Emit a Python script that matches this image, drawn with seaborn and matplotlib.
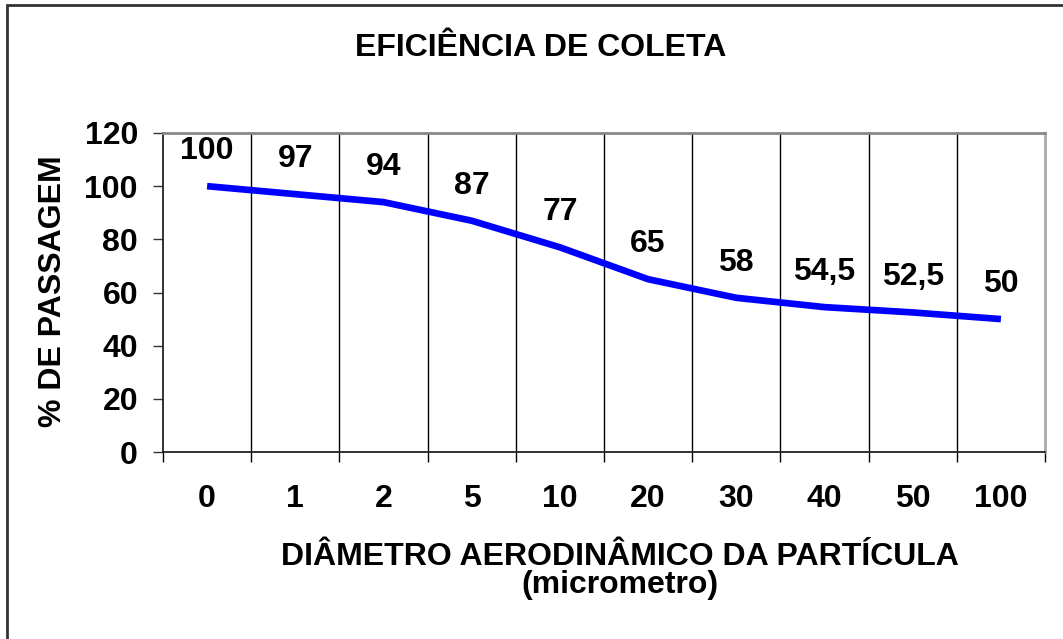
import matplotlib
matplotlib.use("Agg")
import matplotlib.pyplot as plt
import matplotlib.patches as mpatches
import pandas as pd
import seaborn as sns

# dados
diametros = ["0", "1", "2", "5", "10", "20", "30", "40", "50", "100"]
passagem = [100, 97, 94, 87, 77, 65, 58, 54.5, 52.5, 50]
rotulos = ["100", "97", "94", "87", "77", "65", "58", "54,5", "52,5", "50"]
y_ticks = [0, 20, 40, 60, 80, 100, 120]

df = pd.DataFrame({"pos": range(len(diametros)), "passagem": passagem})

sns.set_theme(style="white")
plt.rcParams["font.family"] = ["Liberation Sans", "DejaVu Sans"]
plt.rcParams["font.weight"] = "bold"
plt.rcParams["text.color"] = "black"
plt.rcParams["xtick.color"] = "black"
plt.rcParams["ytick.color"] = "black"

FS = 23

W, H = 1063, 639
fig = plt.figure(figsize=(W / 100, H / 100), dpi=100)
ax = fig.add_axes([163 / W, 1 - 452 / H, (1045 - 163) / W, (452 - 133) / H])

sns.lineplot(data=df, x="pos", y="passagem", ax=ax, color="#0000ff",
             linewidth=4.8, solid_capstyle="butt")

# rótulos de dados
for i, v in enumerate(passagem):
    ax.annotate(rotulos[i], (i, v), xytext=(0, 27), textcoords="offset pixels",
                ha="center", va="baseline", fontsize=FS, fontweight="bold",
                color="black")

n = len(diametros)
ax.set_xlim(-0.5, n - 0.5)
ax.set_ylim(0, 120)

# linhas verticais entre categorias
for b in range(1, n):
    ax.axvline(b - 0.5, color="black", linewidth=1, zorder=0)

limites = [b - 0.5 for b in range(n + 1)]
ax.set_xticks(limites)
ax.set_xticklabels([""] * len(limites))
ax.set_xticks(range(n), minor=True)
ax.set_xticklabels(diametros, minor=True, fontsize=FS, fontweight="bold")
ax.tick_params(axis="x", which="major", direction="out", length=7, width=1,
               color="black", bottom=True)
ax.tick_params(axis="x", which="minor", length=0, pad=23, bottom=True,
               labelcolor="black")

ax.set_yticks(y_ticks)
ax.set_yticklabels([str(t) for t in y_ticks], fontsize=FS, fontweight="bold")
ax.tick_params(axis="y", direction="out", length=7, width=1, color="#333333",
               left=True, pad=11, labelcolor="black")

for side in ["left", "bottom"]:
    ax.spines[side].set_color("#222222")
    ax.spines[side].set_linewidth(1.3)
ax.spines["top"].set_color("#888888")
ax.spines["top"].set_linewidth(2)
ax.spines["right"].set_color("#aaaaaa")
ax.spines["right"].set_linewidth(2)
ax.grid(False)
ax.set_xlabel("")
ax.set_ylabel("")

# títulos
fig.text(355 / W, 1 - 56 / H, "EFICIÊNCIA DE COLETA", ha="left", va="baseline",
         fontsize=FS, fontweight="bold", color="black")
fig.text(620 / W, 1 - 565 / H, "DIÂMETRO AERODINÂMICO DA PARTÍCULA",
         ha="center", va="baseline", fontsize=FS, fontweight="bold", color="black")
fig.text(620 / W, 1 - 593 / H, "(micrometro)", ha="center", va="baseline",
         fontsize=FS, fontweight="bold", color="black")
fig.text(53 / W, 1 - 291 / H, "% DE PASSAGEM", ha="center", va="center",
         rotation=90, fontsize=FS, fontweight="bold", color="black")

# moldura externa
moldura = mpatches.Rectangle((7 / W, -0.1), 1.2, 1 - 5 / H + 0.1,
                             transform=fig.transFigure, fill=False,
                             edgecolor="#333333", linewidth=2)
fig.patches.append(moldura)

fig.savefig("out.png", dpi=100)
